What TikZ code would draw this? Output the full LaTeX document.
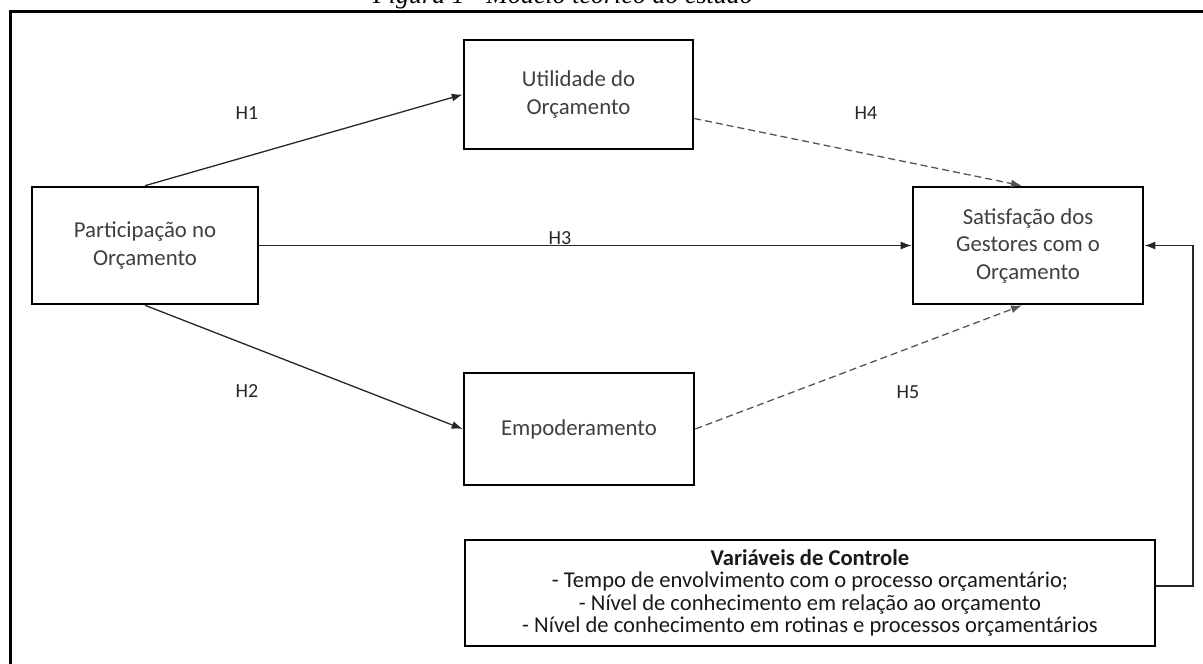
\documentclass[tikz,border=0pt]{standalone}
\usepackage{fontspec}
\setmainfont{Carlito}
\newfontfamily\titlefont{Liberation Serif}
\usetikzlibrary{arrows.meta}
\definecolor{txtgray}{HTML}{3F3F3F}
\definecolor{dashgray}{HTML}{555555}
\begin{document}
\begin{tikzpicture}[x=1pt, y=-1pt,
    box/.style={draw, line width=2.6pt, align=center, text=txtgray, inner sep=0pt,
      font=\fontsize{22.8}{27.5}\selectfont},
    ctrlbox/.style={box, text=black!90, font=\fontsize{22.6}{22.6}\selectfont},
    hyp/.style={text=black!85, font=\fontsize{20}{24}\selectfont},
    link/.style={line width=1.3pt, draw=black!85, -{Latex[length=11pt, width=8pt]}},
    weak/.style={link, draw=dashgray, dash pattern=on 7pt off 4pt}]
  \useasboundingbox (0,0) rectangle (1203,664);
  % title, cut by the top of the page
  \node[anchor=base, font=\titlefont\itshape\fontsize{26}{30}\selectfont] (title) at (563,3)
    {Figura 1 - Modelo teórico do estudo};
  \draw[line width=3pt] (10,720) -- (10,11) -- (1260,11);

  % constructs
  \node[box, minimum width=226, minimum height=117] (part) at (145,245.5) {Participação no\\Orçamento};
  \node[box, minimum width=229, minimum height=109] (util) at (578.5,94.5) {Utilidade do\\Orçamento};
  \node[box, minimum width=230, minimum height=112] (emp) at (579,429) {Empoderamento};
  \node[box, minimum width=230, minimum height=117] (sat) at (1028,245.5) {Satisfação dos\\Gestores com o\\Orçamento};
  \node[ctrlbox, minimum width=690, minimum height=106] (ctrl) at (810,593)
    {\textbf{Variáveis de Controle}\\- Tempo de envolvimento com o processo orçamentário;\\- Nível de conhecimento em relação ao orçamento\\- Nível de conhecimento em rotinas e processos orçamentários};

  % hypotheses
  \draw[link] (part.north) -- (util.west);
  \draw[link] (part.south) -- (emp.west);
  \draw[link] (part.east) -- (sat.west);
  \draw[weak] ([yshift=-24pt]util.east) -- ([xshift=-6pt]sat.north);
  \draw[weak] (emp.east) -- ([xshift=-6pt]sat.south);
  \coordinate (bend) at (1193,586);
  \draw[link, line width=1.5pt] (ctrl.east |- bend) -- (bend) |- (sat.east);

  \node[hyp] (h1) at (247,113) {H1};
  \node[hyp] (h2) at (247,391) {H2};
  \node[hyp] (h3) at (560,238) {H3};
  \node[hyp] (h4) at (866,113) {H4};
  \node[hyp] (h5) at (908,392) {H5};
\end{tikzpicture}
\end{document}
